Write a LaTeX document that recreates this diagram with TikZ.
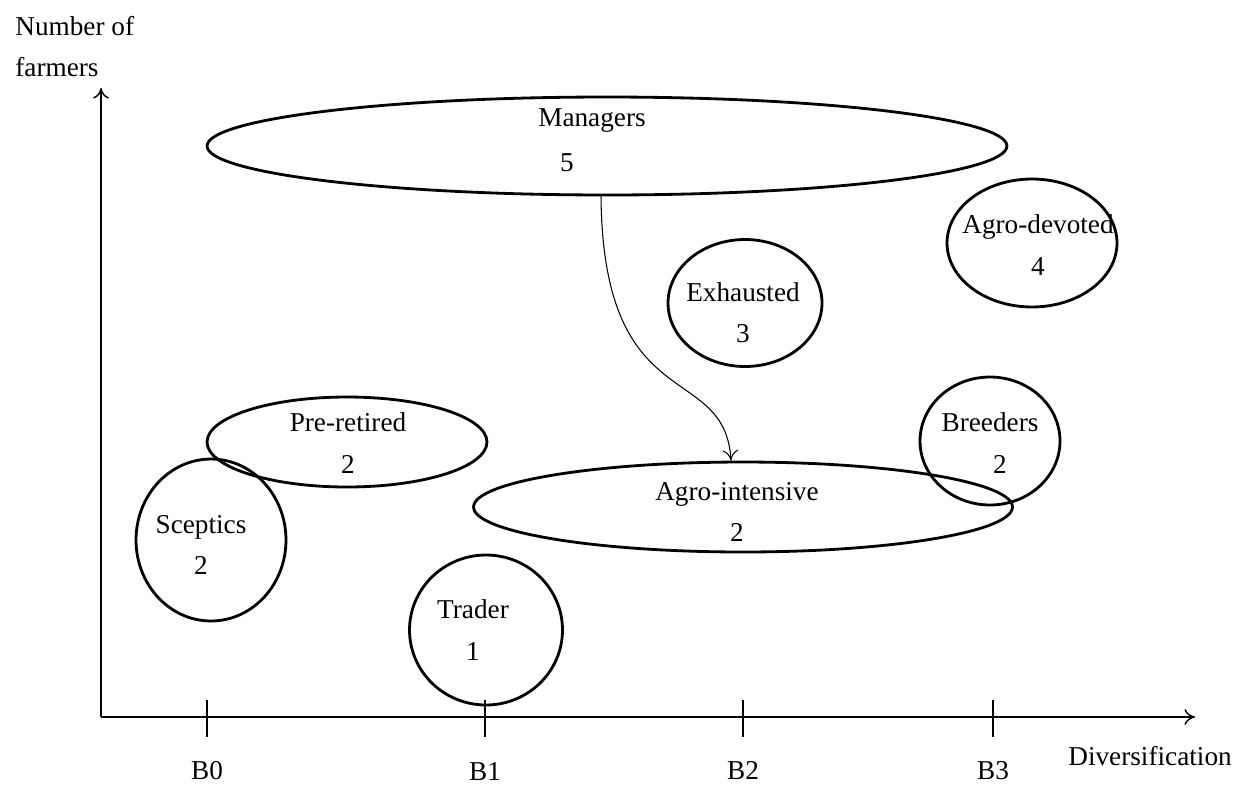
\documentclass[tikz,border=0pt]{standalone}
\usepackage{fontspec}
\setmainfont{Liberation Serif}
\usetikzlibrary{shapes.geometric,arrows.meta,calc}
\begin{document}
\begin{tikzpicture}[x=0.02cm,y=-0.02cm,
  grp/.style={draw,ellipse,line width=1.6pt,inner sep=0pt},
  lbl/.style={align=center,font=\fontsize{15.5}{23.5}\selectfont,inner sep=0pt},
  axis/.style={line width=0.8pt,-{To[length=6pt,width=9pt]}},
  tick/.style={line width=0.8pt},
  flow/.style={line width=0.6pt,-{To[length=6pt,width=9pt]}}]
\useasboundingbox (0,0) rectangle (1260,785);
% axes
\coordinate (O) at (101,717);
\coordinate (ytip) at (101,88);
\coordinate (xtip) at (1195,717);
\draw[axis] (O) -- (ytip);
\draw[axis] (O) -- (xtip);
\foreach \x/\n in {207/B0,485/B1,743/B2,993/B3}{
  \coordinate (t\n a) at (\x,700);
  \coordinate (t\n b) at (\x,737);
  \draw[tick] (t\n a) -- (t\n b);
}
\node[lbl,anchor=base] (lb0) at (207,779) {B0};
\node[lbl,anchor=base] (lb1) at (485,780) {B1};
\node[lbl,anchor=base] (lb2) at (743,779) {B2};
\node[lbl,anchor=base] (lb3) at (993,779) {B3};
\node[lbl,anchor=base west] (xl) at (1068,765) {Diversification};
\node[lbl,anchor=base west] (yl1) at (15,35) {Number of};
\node[lbl,anchor=base west] (yl2) at (15,76) {farmers};
% groups
\node[grp,minimum width=16cm,minimum height=1.96cm] (mgr) at (607,146) {};
\node[grp,minimum width=3.4cm,minimum height=2.56cm] (dev) at (1032,243) {};
\node[grp,minimum width=3.08cm,minimum height=2.54cm] (exh) at (745,303) {};
\node[grp,minimum width=2.8cm,minimum height=2.56cm] (brd) at (990,441) {};
\node[grp,minimum width=5.6cm,minimum height=1.8cm] (pre) at (347,442) {};
\node[grp,minimum width=3.0cm,minimum height=3.24cm] (scp) at (211,540) {};
\node[grp,minimum width=10.78cm,minimum height=1.8cm] (ai) at (743,507) {};
\node[grp,minimum width=3.06cm,minimum height=3.0cm] (trd) at (486,630) {};
% labels
\node[lbl] (tmgr) at (592,121) {Managers};
\node[lbl] (tmgrn) at (567,163) {5};
\node[lbl] (tdev) at (1038,245) {Agro-devoted\\4};
\node[lbl] (texh) at (743,313) {Exhausted\\3};
\node[lbl] (tbrd) at (990,422) {Breeders};
\node[lbl] (tbrdn) at (1000,464) {2};
\node[lbl] (tpre) at (348,443) {Pre-retired\\2};
\node[lbl] (tscp) at (201,545) {Sceptics\\2};
\node[lbl] (tai) at (737,512) {Agro-intensive\\2};
\node[lbl] (ttrd) at (473,630) {Trader\\1};
% flow
\coordinate (fs) at ($(mgr.south)+(-6,0)$);
\coordinate (fe) at ($(ai.north)+(-12,0)$);
\draw[flow] (fs) .. controls (603,420) and (725,360) .. (fe);
\end{tikzpicture}
\end{document}
